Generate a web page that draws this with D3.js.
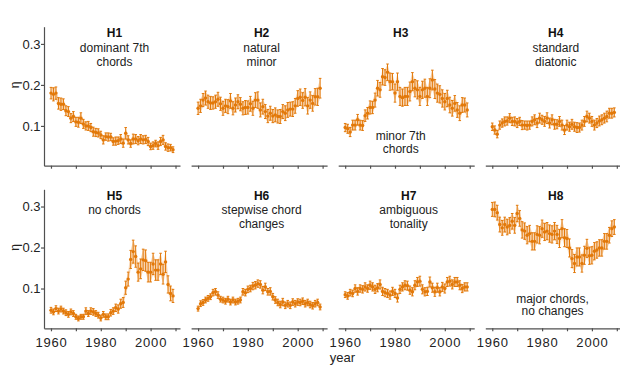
<!DOCTYPE html>
<html>
<head>
<meta charset="utf-8">
<script src="https://cdn.jsdelivr.net/npm/d3@7"></script>
<style>
  html, body { margin: 0; padding: 0; background: #fff; }
  svg { display: block; font-family: "Liberation Sans", Arial, Helvetica, sans-serif; }
  .axis path, .axis line { stroke: #505050; stroke-width: 1.2; }
  .axis text { font-size: 13px; fill: #222; }
</style>
</head>
<body>
<svg id="chart" width="620" height="379"></svg>
<script>
// ------------------
// Data
// ------------------
const YEARS = d3.range(1960, 2010);

const TITLES = ["H1", "H2", "H3", "H4", "H5", "H6", "H7", "H8"];
const SUBTITLES = [
  ["dominant 7th", "chords"], ["natural", "minor"], [], ["standard", "diatonic"],
  ["no chords"], ["stepwise chord", "changes"], ["ambiguous", "tonality"], []
];
const BOTTOM_NOTES = [[], [], ["minor 7th", "chords"], [], [], [], [], ["major chords,", "no changes"]];

const X_TICKS = [1960, 1970, 1980, 1990, 2000, 2010];
const X_LABELS = [1960, 1980, 2000];
const Y_TICKS = [0.1, 0.2, 0.3];

const H1 = [0.180,0.177,0.180,0.155,0.153,0.153,0.137,0.135,0.119,0.123,
            0.110,0.109,0.119,0.105,0.100,0.100,0.096,0.086,0.084,0.083,
            0.078,0.066,0.074,0.073,0.073,0.062,0.063,0.064,0.068,0.058,
            0.082,0.066,0.057,0.068,0.068,0.064,0.068,0.066,0.067,0.062,
            0.050,0.052,0.057,0.052,0.062,0.066,0.050,0.047,0.047,0.042];
const H1_ERR = [0.014,0.016,0.015,0.014,0.015,0.013,0.012,0.012,0.011,0.012,
                0.011,0.012,0.013,0.011,0.010,0.011,0.010,0.011,0.010,0.010,
                0.009,0.010,0.009,0.010,0.009,0.009,0.010,0.009,0.011,0.010,
                0.014,0.010,0.009,0.012,0.011,0.010,0.011,0.010,0.010,0.010,
                0.008,0.009,0.008,0.009,0.010,0.011,0.009,0.009,0.008,0.007];

const H2 = [0.143,0.149,0.163,0.168,0.159,0.156,0.156,0.159,0.165,0.154,
            0.143,0.149,0.147,0.161,0.143,0.151,0.159,0.153,0.143,0.145,
            0.145,0.154,0.143,0.163,0.163,0.139,0.147,0.135,0.124,0.131,
            0.124,0.127,0.123,0.123,0.135,0.131,0.139,0.141,0.141,0.149,
            0.167,0.170,0.162,0.170,0.149,0.163,0.155,0.171,0.171,0.192];
const H2_ERR = [0.015,0.016,0.016,0.017,0.016,0.016,0.015,0.016,0.017,0.016,
                0.017,0.016,0.017,0.018,0.016,0.017,0.017,0.016,0.016,0.017,
                0.016,0.018,0.017,0.018,0.020,0.017,0.018,0.017,0.016,0.017,
                0.016,0.017,0.016,0.017,0.017,0.018,0.018,0.017,0.018,0.018,
                0.019,0.020,0.019,0.021,0.020,0.020,0.019,0.020,0.021,0.024];

const H3 = [0.096,0.093,0.085,0.102,0.102,0.115,0.102,0.101,0.125,0.131,
            0.145,0.145,0.163,0.192,0.188,0.220,0.218,0.231,0.208,0.208,
            0.180,0.208,0.172,0.169,0.172,0.172,0.184,0.208,0.192,0.188,
            0.172,0.188,0.192,0.172,0.192,0.212,0.190,0.180,0.177,0.167,
            0.159,0.167,0.151,0.143,0.155,0.139,0.131,0.151,0.151,0.139];
const H3_ERR = [0.010,0.011,0.011,0.012,0.012,0.013,0.012,0.012,0.014,0.014,
                0.016,0.015,0.017,0.019,0.018,0.020,0.019,0.020,0.021,0.020,
                0.022,0.021,0.022,0.021,0.022,0.022,0.023,0.022,0.021,0.022,
                0.022,0.021,0.022,0.022,0.023,0.024,0.023,0.022,0.021,0.021,
                0.020,0.020,0.019,0.019,0.019,0.018,0.018,0.018,0.017,0.017];

const H4 = [0.098,0.090,0.080,0.102,0.107,0.111,0.112,0.119,0.111,0.111,
            0.107,0.111,0.102,0.102,0.101,0.102,0.111,0.115,0.107,0.119,
            0.115,0.111,0.119,0.107,0.115,0.104,0.104,0.111,0.102,0.090,
            0.102,0.098,0.104,0.098,0.096,0.096,0.102,0.111,0.123,0.119,
            0.111,0.102,0.107,0.112,0.115,0.119,0.123,0.131,0.131,0.133];
const H4_ERR = [0.009,0.010,0.009,0.010,0.010,0.011,0.010,0.011,0.010,0.011,
                0.011,0.010,0.011,0.010,0.011,0.010,0.011,0.012,0.011,0.012,
                0.011,0.012,0.013,0.012,0.012,0.012,0.011,0.012,0.012,0.011,
                0.012,0.011,0.012,0.011,0.012,0.011,0.012,0.012,0.013,0.012,
                0.012,0.012,0.011,0.012,0.012,0.012,0.013,0.012,0.012,0.011];

const H5 = [0.047,0.043,0.051,0.045,0.050,0.045,0.041,0.037,0.043,0.039,
            0.031,0.027,0.031,0.031,0.045,0.039,0.045,0.043,0.039,0.035,
            0.028,0.037,0.031,0.031,0.041,0.045,0.053,0.050,0.063,0.066,
            0.102,0.123,0.171,0.190,0.178,0.140,0.148,0.170,0.168,0.140,
            0.140,0.160,0.145,0.145,0.160,0.135,0.165,0.110,0.088,0.082];
const H5_ERR = [0.007,0.007,0.007,0.007,0.007,0.007,0.007,0.007,0.007,0.007,
                0.006,0.006,0.006,0.006,0.008,0.007,0.008,0.008,0.007,0.007,
                0.007,0.007,0.007,0.007,0.008,0.008,0.009,0.010,0.011,0.012,
                0.016,0.017,0.022,0.028,0.026,0.022,0.024,0.026,0.026,0.024,
                0.024,0.026,0.025,0.025,0.026,0.024,0.026,0.021,0.018,0.016];

const H6 = [0.051,0.063,0.066,0.072,0.076,0.080,0.090,0.092,0.084,0.074,
            0.072,0.069,0.074,0.067,0.072,0.067,0.069,0.072,0.092,0.090,
            0.098,0.100,0.106,0.108,0.112,0.110,0.096,0.104,0.092,0.093,
            0.080,0.072,0.066,0.061,0.067,0.059,0.063,0.059,0.067,0.063,
            0.067,0.066,0.069,0.063,0.066,0.061,0.058,0.063,0.066,0.055];
const H6_ERR = [0.006,0.007,0.007,0.007,0.007,0.007,0.008,0.008,0.008,0.007,
                0.007,0.007,0.007,0.007,0.007,0.007,0.007,0.007,0.008,0.008,
                0.008,0.008,0.009,0.009,0.009,0.009,0.009,0.009,0.008,0.009,
                0.008,0.008,0.008,0.008,0.009,0.008,0.008,0.008,0.008,0.008,
                0.008,0.008,0.008,0.008,0.008,0.008,0.008,0.008,0.008,0.007];

const H7 = [0.085,0.082,0.090,0.088,0.100,0.093,0.100,0.098,0.104,0.100,
            0.108,0.104,0.098,0.102,0.110,0.093,0.090,0.088,0.084,0.093,
            0.088,0.077,0.098,0.104,0.108,0.107,0.096,0.092,0.108,0.116,
            0.118,0.098,0.092,0.093,0.116,0.102,0.092,0.102,0.092,0.104,
            0.100,0.116,0.118,0.110,0.116,0.116,0.108,0.100,0.104,0.104];
const H7_ERR = [0.007,0.008,0.008,0.008,0.009,0.009,0.009,0.009,0.010,0.009,
                0.010,0.010,0.010,0.010,0.011,0.010,0.010,0.010,0.010,0.010,
                0.010,0.010,0.010,0.010,0.011,0.011,0.010,0.010,0.011,0.011,
                0.012,0.011,0.010,0.010,0.012,0.011,0.011,0.011,0.010,0.011,
                0.011,0.011,0.012,0.011,0.011,0.011,0.011,0.010,0.010,0.010];

const H8 = [0.293,0.293,0.285,0.256,0.248,0.256,0.250,0.254,0.264,0.254,
            0.283,0.271,0.243,0.240,0.230,0.234,0.215,0.215,0.232,0.230,
            0.246,0.238,0.240,0.234,0.232,0.240,0.232,0.222,0.246,0.224,
            0.222,0.199,0.173,0.161,0.177,0.177,0.161,0.181,0.198,0.180,
            0.181,0.191,0.194,0.199,0.199,0.215,0.215,0.230,0.246,0.250];
const H8_ERR = [0.017,0.018,0.018,0.018,0.018,0.018,0.019,0.019,0.019,0.019,
                0.020,0.019,0.020,0.020,0.021,0.020,0.021,0.021,0.021,0.021,
                0.021,0.021,0.021,0.021,0.021,0.021,0.022,0.022,0.022,0.022,
                0.022,0.022,0.022,0.022,0.022,0.022,0.021,0.022,0.022,0.021,
                0.021,0.021,0.020,0.020,0.020,0.019,0.019,0.019,0.019,0.018];

const SERIES = [H1, H2, H3, H4, H5, H6, H7, H8];
const ERRORS = [H1_ERR, H2_ERR, H3_ERR, H4_ERR, H5_ERR, H6_ERR, H7_ERR, H8_ERR];

// ------------------
// Layout
// ------------------
const ORANGE = "#e27808";
const BAND = "#f2ad68";
const COL_STEP = 147.1;
const ROW_STEP = 162.6;

const svg = d3.select("#chart");

function panelScales(i) {
  const col = i % 4, row = Math.floor(i / 4);
  const left = 44 + col * COL_STEP;
  const x = d3.scaleLinear().domain([1957.2, 2011.8]).range([left, left + 136]);
  const y = d3.scaleLinear().domain([0.003, 0.342])
    .range([165.7 + row * ROW_STEP, 26.7 + row * ROW_STEP]);
  return { x, y, col, row };
}

// ------------------
// Panels
// ------------------
SERIES.forEach((vals, i) => {
  const { x, y, col, row } = panelScales(i);
  const err = ERRORS[i];
  const pts = YEARS.map((yr, k) => ({ yr, v: vals[k], e: err[k] }));
  const g = svg.append("g");

  // x axis
  const xAxis = d3.axisBottom(x)
    .tickValues(X_TICKS)
    .tickSize(3)
    .tickSizeOuter(0)
    .tickFormat(d => (row === 1 && X_LABELS.includes(d)) ? d : "");
  g.append("g")
    .attr("class", "axis")
    .attr("transform", `translate(0,${y.range()[0]})`)
    .call(xAxis)
    .call(s => s.selectAll("text").attr("dy", "0.95em").style("letter-spacing", "0.8px"));

  // y axis only in first column
  if (col === 0) {
    g.append("g")
      .attr("class", "axis")
      .attr("transform", `translate(${x.range()[0]},0)`)
      .call(d3.axisLeft(y).tickValues(Y_TICKS).tickSize(3).tickSizeOuter(0).tickFormat(d3.format(".1f")))
      .call(s => s.selectAll("text").attr("x", -3.5));

    g.append("text")
      .attr("transform", `translate(15,${y(0.2)}) rotate(-90)`)
      .attr("text-anchor", "middle")
      .attr("dy", "0.3em")
      .style("font-size", "12px")
      .attr("fill", "#222")
      .text("η");
  }

  // confidence band
  g.append("path")
    .datum(pts)
    .attr("fill", BAND)
    .attr("opacity", 0.5)
    .attr("d", d3.area().x(d => x(d.yr)).y0(d => y(d.v - d.e)).y1(d => y(d.v + d.e)));

  // error bars
  const bars = g.append("g").attr("stroke", ORANGE).attr("stroke-width", 1);
  bars.selectAll("line.bar").data(pts).join("line")
    .attr("class", "bar")
    .attr("x1", d => x(d.yr)).attr("x2", d => x(d.yr))
    .attr("y1", d => y(d.v - d.e)).attr("y2", d => y(d.v + d.e));
  bars.selectAll("line.capTop").data(pts).join("line")
    .attr("class", "capTop")
    .attr("x1", d => x(d.yr) - 1.3).attr("x2", d => x(d.yr) + 1.3)
    .attr("y1", d => y(d.v + d.e)).attr("y2", d => y(d.v + d.e));
  bars.selectAll("line.capBot").data(pts).join("line")
    .attr("class", "capBot")
    .attr("x1", d => x(d.yr) - 1.3).attr("x2", d => x(d.yr) + 1.3)
    .attr("y1", d => y(d.v - d.e)).attr("y2", d => y(d.v - d.e));

  // points
  g.selectAll("circle").data(pts).join("circle")
    .attr("cx", d => x(d.yr))
    .attr("cy", d => y(d.v))
    .attr("r", 1.7)
    .attr("fill", ORANGE);

  // titles
  const tx = x(i === 2 ? 1982.3 : 1985.5);
  const top = y.range()[1];
  g.append("text")
    .attr("x", tx).attr("y", top + 10.3)
    .attr("text-anchor", "middle")
    .style("font-size", "12px").style("font-weight", "bold")
    .attr("fill", "#111")
    .text(TITLES[i]);

  SUBTITLES[i].forEach((line, k) => {
    g.append("text")
      .attr("x", tx).attr("y", top + 25 + k * 14)
      .attr("text-anchor", "middle")
      .style("font-size", "12px")
      .attr("fill", "#222")
      .text(line);
  });

  const nx = x(i === 2 ? 1982.3 : 1984.2);
  BOTTOM_NOTES[i].forEach((line, k) => {
    g.append("text")
      .attr("x", nx).attr("y", top + 113.3 + k * 12.6)
      .attr("text-anchor", "middle")
      .style("font-size", "12px")
      .attr("fill", "#222")
      .text(line);
  });
});

// x axis title
svg.append("text")
  .attr("x", 342.5)
  .attr("y", 362)
  .attr("text-anchor", "middle")
  .style("font-size", "13px")
  .attr("fill", "#222")
  .text("year");
</script>
</body>
</html>
